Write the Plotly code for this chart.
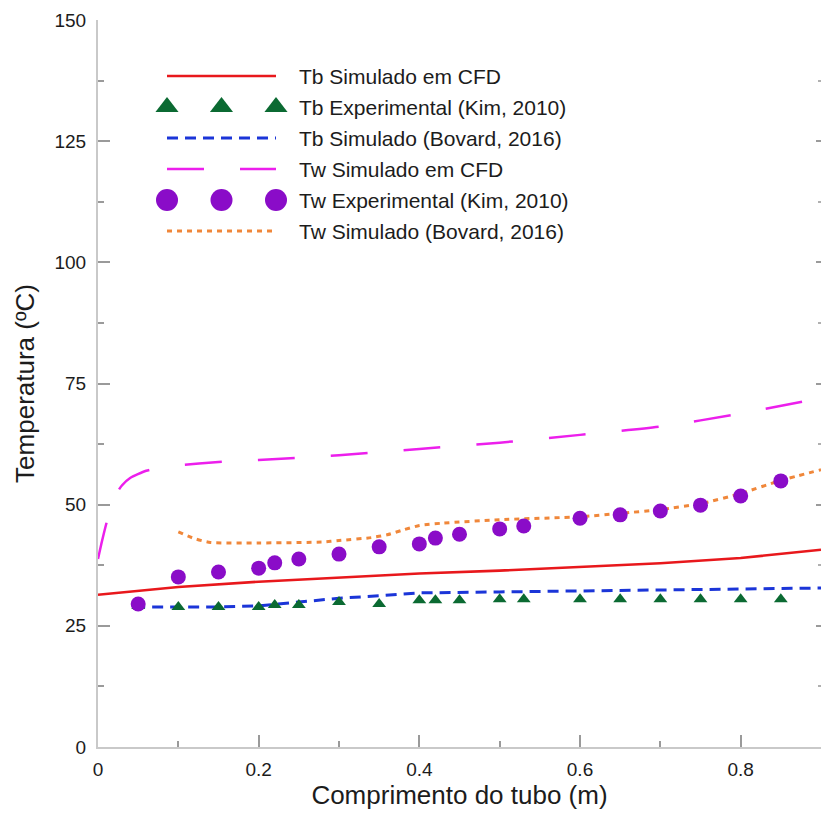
import plotly.graph_objects as go

# ---- data -------------------------------------------------------------
# Bulk temperature, CFD simulation
x_tb_cfd = [0, 0.1, 0.2, 0.3, 0.4, 0.5, 0.6, 0.7, 0.8, 0.9]
tb_cfd = [31.4, 33.0, 34.1, 35.0, 35.8, 36.4, 37.1, 37.9, 39.0, 40.7]

# Experimental points (Kim, 2010)
x_exp = [0.05, 0.1, 0.15, 0.2, 0.22, 0.25, 0.3, 0.35, 0.4, 0.42,
         0.45, 0.5, 0.53, 0.6, 0.65, 0.7, 0.75, 0.8, 0.85]
tb_exp = [29.1, 28.9, 28.9, 28.9, 29.3, 29.3, 29.9, 29.5, 30.3, 30.3,
          30.3, 30.5, 30.5, 30.5, 30.5, 30.5, 30.5, 30.5, 30.5]
tw_exp = [29.5, 35.1, 36.1, 36.9, 38.0, 38.8, 39.8, 41.3, 41.9, 43.1,
          43.9, 45.0, 45.6, 47.2, 47.9, 48.7, 49.9, 51.8, 54.9]

# Bulk temperature, Bovard (2016)
x_tb_bov = [0.045, 0.1, 0.15, 0.2, 0.25, 0.3, 0.35, 0.4, 0.5, 0.6, 0.7, 0.8, 0.9]
tb_bov = [28.9, 28.9, 28.9, 29.1, 29.9, 30.7, 31.2, 31.8, 32.0, 32.2, 32.5, 32.7, 32.8]

# Wall temperature, CFD simulation
x_tw_cfd = [0, 0.005, 0.011, 0.02, 0.03, 0.04, 0.06, 0.08, 0.1, 0.15,
            0.2, 0.3, 0.4, 0.5, 0.6, 0.7, 0.8, 0.9]
tw_cfd = [38.8, 42.5, 46.5, 51.5, 54.0, 55.5, 57.0, 57.7, 58.1, 58.8,
          59.2, 60.2, 61.5, 62.8, 64.4, 66.1, 68.8, 72.0]

# Wall temperature, Bovard (2016)
x_tw_bov = [0.1, 0.12, 0.14, 0.2, 0.28, 0.3, 0.34, 0.36, 0.38, 0.4,
            0.43, 0.5, 0.6, 0.65, 0.7, 0.75, 0.8, 0.85, 0.9]
tw_bov = [44.4, 43.0, 42.2, 42.1, 42.3, 42.6, 43.2, 43.8, 44.8, 45.7,
          46.2, 46.9, 47.5, 48.2, 49.0, 50.2, 52.3, 55.0, 57.2]

x_ticks = [0, 0.2, 0.4, 0.6, 0.8]
y_ticks = [0, 25, 50, 75, 100, 125, 150]

series_names = [
    "Tb Simulado em CFD",
    "Tb Experimental (Kim, 2010)",
    "Tb Simulado (Bovard, 2016)",
    "Tw Simulado em CFD",
    "Tw Experimental (Kim, 2010)",
    "Tw Simulado (Bovard, 2016)",
]

# ---- styles -----------------------------------------------------------
FONT = "Liberation Sans, Arial, sans-serif"
TXT = "#1c1c1c"
RED = "#e8181c"
GREEN = "#0b6a32"
BLUE = "#1b35d8"
MAGENTA = "#ec1fec"
PURPLE = "#8a0cc8"
ORANGE = "#f0873a"

W, H = 821, 814
ML, MR, MT, MB = 98, 0, 20, 67

styles = [
    dict(kind="line", color=RED, dash="solid", width=2.5),
    dict(kind="marker", color=GREEN, symbol="triangle-up"),
    dict(kind="line", color=BLUE, dash="11px,7px", width=3),
    dict(kind="line", color=MAGENTA, dash="37px,36px", width=2.5),
    dict(kind="marker", color=PURPLE, symbol="circle"),
    dict(kind="line", color=ORANGE, dash="5px,5px", width=3),
]

fig = go.Figure()

# lines first, markers on top
fig.add_trace(go.Scatter(x=x_tb_cfd, y=tb_cfd, mode="lines",
                         line=dict(color=RED, width=2.6), showlegend=False))
fig.add_trace(go.Scatter(x=x_tb_bov, y=tb_bov, mode="lines",
                         line=dict(color=BLUE, width=3, dash="11px,7px"), showlegend=False))
fig.add_trace(go.Scatter(x=x_tw_cfd, y=tw_cfd, mode="lines",
                         line=dict(color=MAGENTA, width=2.5, dash="37px,36px", shape="spline",
                                   smoothing=0.6), showlegend=False))
fig.add_trace(go.Scatter(x=x_tw_bov, y=tw_bov, mode="lines",
                         line=dict(color=ORANGE, width=3, dash="5px,5px", shape="spline",
                                   smoothing=0.6), showlegend=False))
fig.add_trace(go.Scatter(x=x_exp, y=tb_exp, mode="markers",
                         marker=dict(symbol="triangle-up", size=12, color=GREEN),
                         showlegend=False))
fig.add_trace(go.Scatter(x=x_exp, y=tw_exp, mode="markers",
                         marker=dict(symbol="circle", size=15, color=PURPLE),
                         showlegend=False))

# empty trace so the right-hand tick axis gets drawn
fig.add_trace(go.Scatter(x=[], y=[], yaxis="y2", showlegend=False, hoverinfo="skip"))

# ---- key drawn in pixel units on a hidden overlay axis -------------------
key_x0, key_x1 = 167, 276
key_text_x = 297
key_row0, key_step = 76, 31
key_marker_x = [key_x0, (key_x0 + key_x1) / 2, key_x1]

for i, (name, st) in enumerate(zip(series_names, styles)):
    yc = key_row0 + i * key_step
    if st["kind"] == "line":
        fig.add_trace(go.Scatter(x=[key_x0, key_x1], y=[yc, yc], mode="lines",
                                 xaxis="x3", yaxis="y3", showlegend=False, hoverinfo="skip",
                                 line=dict(color=st["color"], width=st["width"], dash=st["dash"])))
    else:
        fig.add_trace(go.Scatter(x=key_marker_x, y=[yc] * 3, mode="markers",
                                 xaxis="x3", yaxis="y3", showlegend=False, hoverinfo="skip",
                                 marker=dict(symbol=st["symbol"], color=st["color"],
                                             size=22 if st["symbol"] == "circle" else 20)))
    fig.add_annotation(x=key_text_x, y=yc, xref="x3", yref="y3", text=name,
                       showarrow=False, xanchor="left", yanchor="middle",
                       font=dict(family=FONT, size=21, color=TXT))

axis_common = dict(
    showgrid=False, zeroline=False, showline=True, linecolor="#c9c9c9", linewidth=2,
    ticks="inside", ticklen=12, tickwidth=1.5, tickcolor="#9a9a9a",
    tickfont=dict(family=FONT, size=19, color=TXT),
)

fig.update_layout(
    width=W, height=H,
    margin=dict(l=ML, r=MR, t=MT, b=MB),
    paper_bgcolor="white", plot_bgcolor="white",
    font=dict(family=FONT, color=TXT),
    xaxis=dict(range=[0, 0.9], tickvals=x_ticks, ticktext=[f"{v:g}" for v in x_ticks],
               minor=dict(dtick=0.1, tick0=0, ticks="inside", ticklen=6,
                          tickcolor="#9a9a9a", tickwidth=1.5),
               title=dict(text="Comprimento do tubo (m)", standoff=5,
                          font=dict(family=FONT, size=26, color=TXT)),
               ticklabelstandoff=4,
               **axis_common),
    yaxis=dict(range=[0, 150], tickvals=y_ticks,
               minor=dict(dtick=12.5, tick0=0, ticks="inside", ticklen=6,
                          tickcolor="#9a9a9a", tickwidth=1.5),
               title=dict(text="Temperatura (ºC)", standoff=12,
                          font=dict(family=FONT, size=26, color=TXT)),
               ticklabelstandoff=6,
               **axis_common),
    yaxis2=dict(range=[0, 150], overlaying="y", side="right", anchor="x",
                showline=False, showgrid=False, zeroline=False, showticklabels=False,
                tickvals=y_ticks, ticks="inside", ticklen=5, tickwidth=1.5, tickcolor="#9a9a9a",
                minor=dict(dtick=12.5, tick0=0, ticks="inside", ticklen=3,
                           tickcolor="#b0b0b0", tickwidth=1.5)),
    xaxis3=dict(range=[ML, W - MR], overlaying="x", anchor="y3", visible=False,
                fixedrange=True),
    yaxis3=dict(range=[H - MB, MT], overlaying="y", anchor="x3", visible=False,
                fixedrange=True),
)

fig.write_html("out.html")
